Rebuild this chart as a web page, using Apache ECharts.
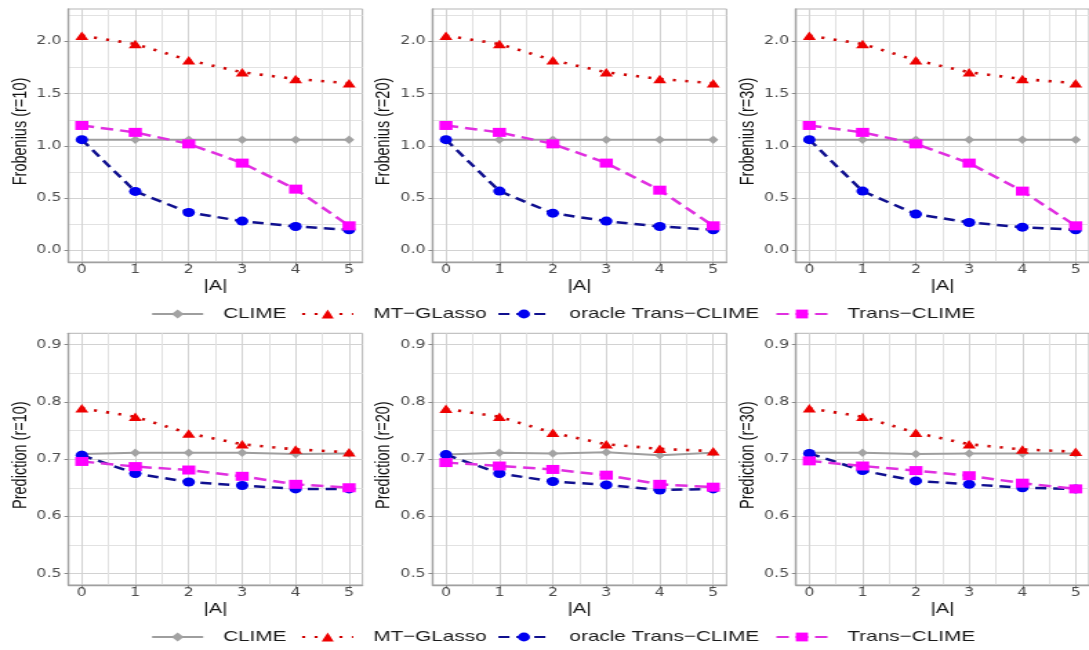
<!DOCTYPE html>
<html><head><meta charset="utf-8">
<script src="https://cdn.jsdelivr.net/npm/echarts@6/dist/echarts.min.js"></script>
<style>
html,body{margin:0;padding:0;background:#fff;overflow:hidden;width:1089px;height:650px}
#c{width:789px;height:650px;transform:scaleX(1.38023);transform-origin:0 0;}
</style></head>
<body><div id="c"></div>
<script>
// ---------------- data ----------------
const xValues = [0, 1, 2, 3, 4, 5];
const xTickLabels = ['0', '1', '2', '3', '4', '5'];
const xTitle = '|A|';
const seriesNames = ['CLIME', 'MT\u2212GLasso', 'oracle Trans\u2212CLIME', 'Trans\u2212CLIME'];

const frobTicks = [0, 0.5, 1.0, 1.5, 2.0];
const frobMinor = [0.25, 0.75, 1.25, 1.75, 2.25];
const predTicks = [0.5, 0.6, 0.7, 0.8, 0.9];
const predMinor = [0.55, 0.65, 0.75, 0.85];
const xMinor = [0.5, 1.5, 2.5, 3.5, 4.5];

// Frobenius, r = 10
const frob10_CLIME  = [1.06, 1.06, 1.06, 1.06, 1.06, 1.06];
const frob10_MT     = [2.055, 1.975, 1.82, 1.705, 1.64, 1.60];
const frob10_oracle = [1.06, 0.565, 0.364, 0.281, 0.230, 0.198];
const frob10_trans  = [1.196, 1.13, 1.02, 0.836, 0.587, 0.236];
// Frobenius, r = 20
const frob20_CLIME  = [1.06, 1.06, 1.06, 1.06, 1.06, 1.06];
const frob20_MT     = [2.055, 1.975, 1.82, 1.705, 1.64, 1.60];
const frob20_oracle = [1.06, 0.568, 0.357, 0.281, 0.230, 0.198];
const frob20_trans  = [1.196, 1.13, 1.02, 0.836, 0.577, 0.236];
// Frobenius, r = 30
const frob30_CLIME  = [1.06, 1.06, 1.06, 1.06, 1.06, 1.06];
const frob30_MT     = [2.055, 1.975, 1.82, 1.705, 1.64, 1.60];
const frob30_oracle = [1.06, 0.568, 0.348, 0.268, 0.223, 0.198];
const frob30_trans  = [1.196, 1.13, 1.02, 0.836, 0.568, 0.236];
// Prediction, r = 10
const pred10_CLIME  = [0.709, 0.711, 0.711, 0.711, 0.709, 0.710];
const pred10_MT     = [0.789, 0.774, 0.745, 0.726, 0.717, 0.712];
const pred10_oracle = [0.707, 0.675, 0.660, 0.654, 0.648, 0.648];
const pred10_trans  = [0.696, 0.687, 0.681, 0.670, 0.656, 0.650];
// Prediction, r = 20
const pred20_CLIME  = [0.708, 0.711, 0.710, 0.712, 0.707, 0.711];
const pred20_MT     = [0.788, 0.774, 0.746, 0.726, 0.718, 0.714];
const pred20_oracle = [0.708, 0.675, 0.661, 0.655, 0.646, 0.648];
const pred20_trans  = [0.694, 0.688, 0.682, 0.672, 0.656, 0.651];
// Prediction, r = 30
const pred30_CLIME  = [0.711, 0.711, 0.709, 0.710, 0.710, 0.710];
const pred30_MT     = [0.789, 0.774, 0.746, 0.726, 0.717, 0.713];
const pred30_oracle = [0.710, 0.680, 0.662, 0.656, 0.650, 0.648];
const pred30_trans  = [0.697, 0.688, 0.680, 0.671, 0.658, 0.648];

const panelTitles = ['Frobenius (r=10)', 'Frobenius (r=20)', 'Frobenius (r=30)',
                     'Prediction (r=10)', 'Prediction (r=20)', 'Prediction (r=30)'];

// ---------------- layout / style ----------------
const panels = [
  { title: panelTitles[0], row: 0, col: 0, vals: [frob10_CLIME, frob10_MT, frob10_oracle, frob10_trans] },
  { title: panelTitles[1], row: 0, col: 1, vals: [frob20_CLIME, frob20_MT, frob20_oracle, frob20_trans] },
  { title: panelTitles[2], row: 0, col: 2, vals: [frob30_CLIME, frob30_MT, frob30_oracle, frob30_trans] },
  { title: panelTitles[3], row: 1, col: 0, vals: [pred10_CLIME, pred10_MT, pred10_oracle, pred10_trans] },
  { title: panelTitles[4], row: 1, col: 1, vals: [pred20_CLIME, pred20_MT, pred20_oracle, pred20_trans] },
  { title: panelTitles[5], row: 1, col: 2, vals: [pred30_CLIME, pred30_MT, pred30_oracle, pred30_trans] }
];
const colLeft = [49.6, 313.4, 576.7];
const colWidth = 213;
const rowTop = [9, 333.3];
const rowHeight = [253, 251.7];
const rowRange = [[-0.11, 2.31], [0.48, 0.92]];
const rowTicks = [frobTicks, predTicks];
const rowMinor = [frobMinor, predMinor];

const styles = [
  { line: '#9e9e9e', mark: '#a3a3a3', type: 'solid', width: 2, symbol: 'diamond', size: [7.5, 8.5] },
  { line: '#d00000', mark: '#ee0000', type: [2.2, 6.8], width: 2.6, symbol: 'triangle', size: [9.5, 8.5] },
  { line: '#10108f', mark: '#0000f0', type: [8, 5], width: 2.5, symbol: 'circle', size: 9 },
  { line: '#e030e0', mark: '#ff00ff', type: [9, 5], width: 2.5, symbol: 'rect', size: [9.5, 9] }
];

const tickFont = { fontFamily: 'DejaVu Sans', fontSize: 11.5, color: '#4d4d4d' };
const titleFont = { fontFamily: 'Liberation Sans', fontSize: 14.5, color: '#111' };

const grid = [], xAxis = [], yAxis = [], series = [];
panels.forEach((p, gi) => {
  grid.push({ left: colLeft[p.col], top: rowTop[p.row], width: colWidth, height: rowHeight[p.row],
    show: true, borderColor: '#b5b5b5', borderWidth: 1, backgroundColor: '#fff' });
  const yr = rowRange[p.row];
  // main x axis
  xAxis.push({ type: 'value', gridIndex: gi, min: -0.25, max: 5.25, position: 'bottom',
    name: xTitle, nameLocation: 'middle', nameGap: 16,
    nameTextStyle: Object.assign({ lineHeight: 15 }, titleFont),
    axisLine: { show: true, onZero: false, lineStyle: { color: '#a0a0a0', width: 1.3 } },
    axisTick: { show: true, length: 3.5, customValues: xValues, lineStyle: { color: '#8a8a8a', width: 1 } },
    axisLabel: Object.assign({ customValues: xValues, margin: 2, lineHeight: 12,
      formatter: v => xTickLabels[xValues.indexOf(Math.round(v))] }, tickFont),
    splitLine: { show: true, lineStyle: { color: '#d2d2d2', width: 1 } } });
  // minor x axis (grid lines only)
  xAxis.push({ type: 'value', gridIndex: gi, min: -0.25, max: 5.25,
    axisLine: { show: false, onZero: false }, axisLabel: { show: false },
    axisTick: { show: false, customValues: xMinor },
    splitLine: { show: true, lineStyle: { color: '#e2e2e2', width: 1 } } });
  // main y axis
  yAxis.push({ type: 'value', gridIndex: gi, min: yr[0], max: yr[1], position: 'left',
    name: p.title, nameLocation: 'middle', nameGap: 27.5, nameRotate: 90,
    nameTextStyle: Object.assign({ lineHeight: 15, padding: [0, 0, 0, 8] }, titleFont),
    axisLine: { show: true, onZero: false, lineStyle: { color: '#a0a0a0', width: 1.3 } },
    axisTick: { show: true, length: 3, customValues: rowTicks[p.row], lineStyle: { color: '#8a8a8a', width: 1 } },
    axisLabel: Object.assign({ customValues: rowTicks[p.row], margin: 5,
      formatter: v => v.toFixed(1) }, tickFont),
    splitLine: { show: true, lineStyle: { color: '#d2d2d2', width: 1 } } });
  // minor y axis
  yAxis.push({ type: 'value', gridIndex: gi, min: yr[0], max: yr[1],
    axisLine: { show: false, onZero: false }, axisLabel: { show: false },
    axisTick: { show: false, customValues: rowMinor[p.row] },
    splitLine: { show: true, lineStyle: { color: '#e2e2e2', width: 1 } } });

  p.vals.forEach((ys, si) => {
    const st = styles[si];
    series.push({
      type: 'line', name: seriesNames[si], xAxisIndex: gi * 2, yAxisIndex: gi * 2,
      data: xValues.map((x, i) => [x, ys[i]]),
      symbol: st.symbol, symbolSize: st.size, showSymbol: true,
      lineStyle: { color: st.line, width: st.width, type: st.type, cap: 'butt' },
      itemStyle: { color: st.mark },
      z: 2 + si, silent: true
    });
  });
});

const legendLeft = [109.2, 217.9, 360.1, 561.5];
const legendTop = [306.5, 629.5];
const legend = [];
legendTop.forEach(t => {
  seriesNames.forEach((n, i) => {
    legend.push({ data: [n], left: legendLeft[i], top: t, padding: 0, itemGap: 0,
      itemWidth: 37, itemHeight: 11, selectedMode: false,
      textStyle: { fontFamily: 'Liberation Sans', fontSize: 15, color: '#1a1a1a', lineHeight: 11, padding: [0, 0, 0, 9.5] } });
  });
});

const chart = echarts.init(document.getElementById('c'), null, { renderer: 'canvas' });
chart.setOption({ animation: false, backgroundColor: '#fff', grid, xAxis, yAxis, series, legend });
</script>
</body></html>
